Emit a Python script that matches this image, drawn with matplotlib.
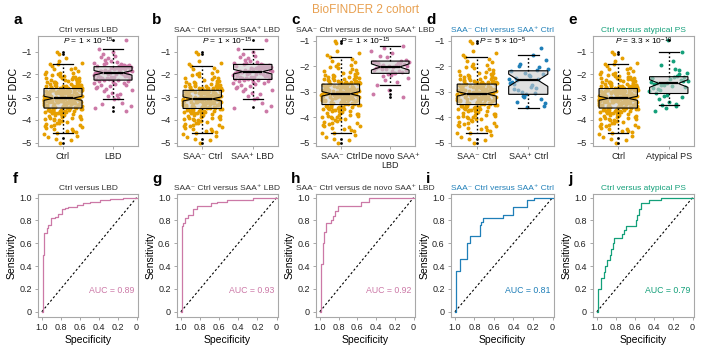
import matplotlib.pyplot as plt
import numpy as np

plt.rcParams['font.family'] = ['Liberation Sans', 'DejaVu Sans']
plt.rcParams['mathtext.fontset'] = 'custom'
plt.rcParams['mathtext.rm'] = 'Liberation Sans'
plt.rcParams['mathtext.it'] = 'Liberation Sans:italic'

# ---- CSF DDC values ----
saa_neg_ctrl = [-3.12, -2.64, -3.58, -2.91, -4.05, -2.33, -3.27, -2.78, -3.85, -3.02, -2.55, -3.44, -1.92, -3.16, -2.87, -4.42, -3.35, -2.69, -3.08, -2.21,
                -3.71, -2.96, -3.22, -1.63, -3.49, -2.74, -4.18, -3.05, -2.48, -3.31, -2.83, -3.93, -2.62, -3.19, -4.61, -2.99, -3.4, -2.37, -3.64, -2.81,
                -3.1, -1.0, -3.53, -2.72, -4.27, -3.0, -2.58, -3.38, -2.93, -3.77, -2.15, -3.24, -2.86, -4.5, -3.14, -2.67, -3.46, -2.04, -3.03, -3.89,
                -2.77, -3.29, -4.83, -2.9, -3.6, -2.44, -3.18, -2.8, -3.98, -3.07, -1.78, -3.36, -2.6, -3.55, -2.95, -4.12, -3.21, -2.52, -3.68, -2.84,
                -3.13, -4.35, -2.71, -3.42, -2.28, -3.01, -3.82, -2.97, -1.1, -3.25, -2.65, -3.5, -4.7, -2.88, -3.33, -2.41, -3.11, -3.95, -2.76, -3.04,
                -2.1, -3.62, -2.92, -3.2, -4.22, -2.57, -3.39, -2.82, -3.74, -3.09, -1.48, -3.28, -2.7, -4.55, -3.15, -2.5, -3.47, -2.98, -3.86, -2.25,
                -3.06, -2.79, -4.0, -3.34, -2.62, -3.57, -1.85, -3.17, -2.89, -4.38, -3.23, -2.46, -3.66, -2.94, -3.0, -5.0, -2.73, -3.43, -2.35, -3.12,
                -3.79, -2.85, -3.26, -2.0, -3.52, -4.08, -2.68, -3.08, -2.97, -3.37, -4.9, -2.53, -3.19, -2.83, -3.63, -1.7, -3.02, -4.28, -2.75, -3.3,
                -2.42, -3.45, -2.9, -3.91, -3.14, -2.61, -4.47, -3.22, -2.8, -3.58, -2.18, -3.05, -3.72, -2.93, -3.35, -1.55, -2.66, -4.15, -3.1, -2.87,
                -3.48, -2.3, -3.84, -2.99, -3.16, -4.6, -2.71, -3.4, -2.56, -3.27, -2.08, -3.67, -2.95, -4.02, -3.03, -2.78, -3.54, -1.95, -3.2, -4.33,
                -2.84, -3.11, -2.49, -3.76, -2.96, -3.32, -2.38, -4.24, -3.07, -2.73, -3.6, -1.4, -3.18, -2.89, -3.98, -2.6, -3.44, -4.75, -2.91, -3.13]
saa_pos_ctrl = [-2.55, -1.3, -3.1, -2.2, -2.85, -1.9, -3.45, -2.4, -2.7, -2.05, -3.2, -2.5, -1.55, -2.95, -2.3, -3.6, -2.6, -2.15,
                -3.0, -1.75, -2.8, -2.45, -3.3, -2.25, -2.65, -3.05, -2.0, -3.55, -2.35, -2.9, -2.52, -3.15, -2.1, -2.75, -3.4]
ctrl = saa_neg_ctrl + saa_pos_ctrl
lbd_saa_pos = [-1.9, -0.5, -2.1, -2.6, -1.75, -1.35, -2.02, -3.1, -1.83, -1.6, -2.2, -2.4, -1.68, -1.1, -1.96, -2.8, -1.88, -1.55,
               -2.14, -3.4, -1.72, -1.25, -2.07, -2.5, -1.92, -1.64, -2.24, -2.3, -1.78, -0.9, -2.0, -2.95, -1.85, -1.45, -2.17, -3.6,
               -1.7, -1.62, -1.94, -2.65, -1.8, -1.2, -2.12, -2.36, -1.87, -1.5, -2.25, -2.75, -1.67, -1.0, -2.05, -3.25, -1.91, -1.66,
               -1.98, -2.47, -1.77, -1.4, -2.19, -2.88, -1.82, -1.58, -2.1, -2.27, -1.74, -1.3, -2.04, -3.02, -1.89, -1.63, -2.22, -2.55,
               -1.71, -1.5, -2.15, -2.43, -1.86, -1.65, -1.95, -3.5, -1.8, -1.55, -2.08, -2.33, -1.93, -1.6, -2.0, -2.7]
lbd_saa_neg = [-2.9, -3.3, -2.45]
lbd = lbd_saa_pos + lbd_saa_neg
denovo_lbd = [-2.03, -1.21, -2.3, -1.85, -2.6, -1.95, -2.15, -1.5, -2.74, -1.8, -2.1, -1.4, -2.25, -2.0, -1.9, -2.95, -1.82, -2.18,
              -1.3, -2.45, -2.05, -1.88, -2.22, -1.65, -3.1, -1.97, -2.12, -1.75, -2.35, -2.08, -1.92, -2.55, -1.83, -2.28, -1.6, -3.2,
              -2.0, -2.15, -1.86, -2.4, -1.99, -2.2]
atyp_ps = [-2.4, -1.03, -2.9, -2.15, -3.3, -1.6, -2.55, -2.2, -3.6, -1.8, -2.45, -2.75, -2.1, -3.1, -2.3, -0.5, -2.6, -2.05, -3.35, -1.95,
           -2.5, -2.84, -2.25, -3.5, -2.35, -1.75, -2.7, -2.12, -3.2, -2.42, -2.0, -2.95, -2.28, -1.4, -2.65, -3.0, -2.38, -2.18, -3.4, -2.48]

# box stats: q1, median, q3, lower whisker, upper whisker, notch half width
ctrl_stats = [-3.48, -3.05, -2.62, -4.58, -1.55, 0.09]
ctrl_fliers = [-1.0, -1.1, -4.8, -5.0]
saa_neg_stats = [-3.5, -3.08, -2.7, -4.6, -1.63, 0.09]
saa_neg_fliers = [-1.0, -1.1, -4.85, -5.0]
lbd_stats = [-2.25, -1.93, -1.66, -3.1, -0.9, 0.1]
lbd_fliers = [-0.5, -3.45, -3.6]
lbd_pos_stats = [-2.22, -1.88, -1.56, -3.1, -0.9, 0.1]
lbd_pos_fliers = [-0.5, -3.45]
denovo_stats = [-2.28, -2.03, -1.8, -2.74, -1.21, 0.12]
denovo_fliers = [-2.95, -3.1, -3.2]
saa_pos_stats = [-3.1, -2.55, -2.18, -3.65, -1.56, 0.24]
saa_pos_fliers = []
atyp_stats = [-2.84, -2.4, -2.1, -3.35, -1.03, 0.17]
atyp_fliers = [-0.5]

# ---- ROC curves (specificity, sensitivity) ----
spec_f = [1.0, 0.99, 0.99, 0.975, 0.95, 0.93, 0.9, 0.86, 0.825, 0.79, 0.755, 0.72, 0.63, 0.56, 0.49, 0.39, 0.28, 0.14, 0.0]
sens_f = [0.0, 0.0, 0.19, 0.5, 0.69, 0.73, 0.76, 0.82, 0.83, 0.86, 0.9, 0.91, 0.92, 0.935, 0.95, 0.965, 0.98, 0.99, 1.0]
spec_g = [1.0, 0.99, 0.99, 0.975, 0.955, 0.92, 0.87, 0.83, 0.8, 0.69, 0.62, 0.52, 0.45, 0.25, 0.25, 0.0]
sens_g = [0.0, 0.0, 0.55, 0.75, 0.78, 0.82, 0.85, 0.9, 0.93, 0.93, 0.95, 0.96, 0.98, 0.98, 1.0, 1.0]
spec_h = [1.0, 0.99, 0.99, 0.97, 0.96, 0.93, 0.91, 0.88, 0.86, 0.84, 0.81, 0.79, 0.56, 0.53, 0.47, 0.47, 0.0]
sens_h = [0.0, 0.0, 0.3, 0.42, 0.6, 0.7, 0.78, 0.78, 0.8, 0.84, 0.88, 0.93, 0.93, 0.96, 0.96, 1.0, 1.0]
spec_i = [1.0, 0.986, 0.986, 0.95, 0.934, 0.88, 0.874, 0.846, 0.836, 0.74, 0.74, 0.737, 0.71, 0.684, 0.51, 0.51, 0.4, 0.4, 0.35,
          0.26, 0.26, 0.19, 0.175, 0.0]
sens_i = [0.0, 0.0, 0.2, 0.36, 0.46, 0.46, 0.55, 0.6, 0.66, 0.66, 0.72, 0.76, 0.79, 0.82, 0.82, 0.85, 0.85, 0.89, 0.92,
          0.92, 0.94, 0.98, 1.0, 1.0]
spec_j = [1.0, 0.989, 0.989, 0.958, 0.958, 0.93, 0.912, 0.895, 0.877, 0.86, 0.853, 0.83, 0.818, 0.79, 0.737, 0.72, 0.70, 0.684,
          0.596, 0.58, 0.56, 0.537, 0.516, 0.456, 0.446, 0.333, 0.333, 0.0]
sens_j = [0.0, 0.0, 0.2, 0.2, 0.25, 0.3, 0.35, 0.4, 0.45, 0.45, 0.5, 0.55, 0.6, 0.65, 0.65, 0.68, 0.72, 0.75,
          0.75, 0.8, 0.85, 0.9, 0.95, 0.95, 0.98, 0.98, 1.0, 1.0]
auc = ['0.89', '0.93', '0.92', '0.81', '0.79']

orange = '#E69F00'
pink = '#CC79A7'
blue = '#1f7fb8'
green = '#14a07a'
dark = '#333333'
frame = '#a8a8a8'

W, H = 713, 351
fig = plt.figure(figsize=(W / 100, H / 100), dpi=100)
lefts = [38, 177, 316, 451, 593]
widths = [100, 101, 99, 103, 101]


def px_axes(x0, y0, w, h):
    return fig.add_axes([x0 / W, 1 - (y0 + h) / H, w / W, h / H])


def style(ax):
    for s in ax.spines.values():
        s.set_color(frame)
        s.set_linewidth(0.8)
    ax.tick_params(length=2.5, width=0.7, color=frame, labelsize=6.5, labelcolor='#222222', pad=2)


top = [
    ('a', 'Ctrl versus LBD', dark, ['Ctrl', 'LBD'], [ctrl, lbd], [ctrl_stats, lbd_stats],
     [ctrl_fliers, lbd_fliers], [orange, pink], '1 × 10$^{-15}$', (-5.15, -0.31)),
    ('b', 'SAA⁻ Ctrl versus SAA⁺ LBD', dark, ['SAA⁻ Ctrl', 'SAA⁺ LBD'], [saa_neg_ctrl, lbd_saa_pos],
     [saa_neg_stats, lbd_pos_stats], [saa_neg_fliers, lbd_pos_fliers], [orange, pink], '1 × 10$^{-15}$', (-5.15, -0.31)),
    ('c', 'SAA⁻ Ctrl versus de novo SAA⁺ LBD', dark, ['SAA⁻ Ctrl', 'De novo SAA⁺\nLBD'], [saa_neg_ctrl, denovo_lbd],
     [saa_neg_stats, denovo_stats], [saa_neg_fliers, denovo_fliers], [orange, pink], '1 × 10$^{-15}$', (-5.12, -0.82)),
    ('d', 'SAA⁻ Ctrl versus SAA⁺ Ctrl', blue, ['SAA⁻ Ctrl', 'SAA⁺ Ctrl'], [saa_neg_ctrl, saa_pos_ctrl],
     [saa_neg_stats, saa_pos_stats], [saa_neg_fliers, saa_pos_fliers], [orange, blue], '5 × 10$^{-5}$', (-5.12, -0.82)),
    ('e', 'Ctrl versus atypical PS', green, ['Ctrl', 'Atypical PS'], [ctrl, atyp_ps], [ctrl_stats, atyp_stats],
     [ctrl_fliers, atyp_fliers], [orange, green], '3.3 × 10$^{-10}$', (-5.15, -0.31)),
]

for k, (lab, title, tcol, cats, groups, stats, fliers, cols, pval, ylim) in enumerate(top):
    ax = px_axes(lefts[k], 36, widths[k], 110)
    for g, vals in enumerate(groups):
        n = len(vals)
        jit = ((np.arange(n) * 0.618034 + 0.21 * g) % 1 - 0.5) * 0.78
        ax.scatter(g + 1 + jit, vals, s=8, color=cols[g], lw=0, zorder=1)
    bx = []
    for st, fl in zip(stats, fliers):
        q1, med, q3, lo, hi, nt = st
        bx.append(dict(q1=q1, med=med, q3=q3, whislo=lo, whishi=hi, cilo=med - nt, cihi=med + nt, fliers=fl))
    ax.bxp(bx, positions=[1, 2], widths=0.76, capwidths=0.4, shownotches=True, patch_artist=True,
           boxprops=dict(facecolor=(0.8, 0.8, 0.8, 0.6), edgecolor='k', lw=0.8),
           whiskerprops=dict(color='k', lw=1.0, ls=(0, (1.2, 1.6))),
           capprops=dict(color='k', lw=0.9),
           medianprops=dict(color='k', lw=1.6),
           flierprops=dict(marker='o', markersize=2, markerfacecolor='k', markeredgecolor='none'))
    ax.set_xlim(0.5, 2.5)
    ax.set_ylim(*ylim)
    ax.set_xticks([1, 2])
    ax.set_xticklabels(cats, linespacing=1.0, fontsize=5.8 if k == 2 else 6.5)
    ax.set_yticks([-5, -4, -3, -2, -1])
    ax.set_ylabel('CSF DDC', fontsize=7.5, labelpad=2)
    ax.set_title(title, fontsize=6, color=tcol, pad=3)
    ax.text(0.5, 0.948, '$\\it{P}$ = ' + pval, transform=ax.transAxes, ha='center', va='center', fontsize=6)
    style(ax)
    fig.text((lefts[k] - 25) / W, 1 - 20 / H, lab, fontsize=11, fontweight='bold', va='center')

bottom = [
    ('f', 'Ctrl versus LBD', dark, spec_f, sens_f, pink),
    ('g', 'SAA⁻ Ctrl versus SAA⁺ LBD', dark, spec_g, sens_g, pink),
    ('h', 'SAA⁻ Ctrl versus de novo SAA⁺ LBD', dark, spec_h, sens_h, pink),
    ('i', 'SAA⁻ Ctrl versus SAA⁺ Ctrl', blue, spec_i, sens_i, blue),
    ('j', 'Ctrl versus atypical PS', green, spec_j, sens_j, green),
]

for k, (lab, title, tcol, sp, se, col) in enumerate(bottom):
    ax = px_axes(lefts[k], 194, widths[k], 123)
    ax.plot([1, 0], [0, 1], color='k', lw=0.8, ls=(0, (2, 2)))
    ax.plot(sp, se, color=col, lw=0.9, drawstyle='steps-pre')
    ax.set_xlim(1.04, -0.015)
    ax.set_ylim(-0.046, 1.032)
    ax.set_xticks([1.0, 0.8, 0.6, 0.4, 0.2, 0.0])
    ax.set_xticklabels(['1.0', '0.8', '0.6', '0.4', '0.2', '0'])
    ax.set_yticks([0, 0.2, 0.4, 0.6, 0.8, 1.0])
    ax.set_yticklabels(['0', '0.2', '0.4', '0.6', '0.8', '1.0'])
    ax.set_xlabel('Specificity', fontsize=7.5, labelpad=2)
    ax.set_ylabel('Sensitivity', fontsize=7.5, labelpad=2)
    ax.set_title(title, fontsize=6, color=tcol, pad=3)
    ax.text(0.02, 0.19, 'AUC = ' + auc[k], ha='right', va='center', color=col, fontsize=6.3)
    style(ax)
    fig.text((lefts[k] - 25) / W, 1 - 179 / H, lab, fontsize=11, fontweight='bold', va='center')

fig.text(365 / W, 1 - 10 / H, 'BioFINDER 2 cohort', ha='center', va='center', fontsize=8.5, color='#E8A050')

fig.savefig('out.png', dpi=100)
